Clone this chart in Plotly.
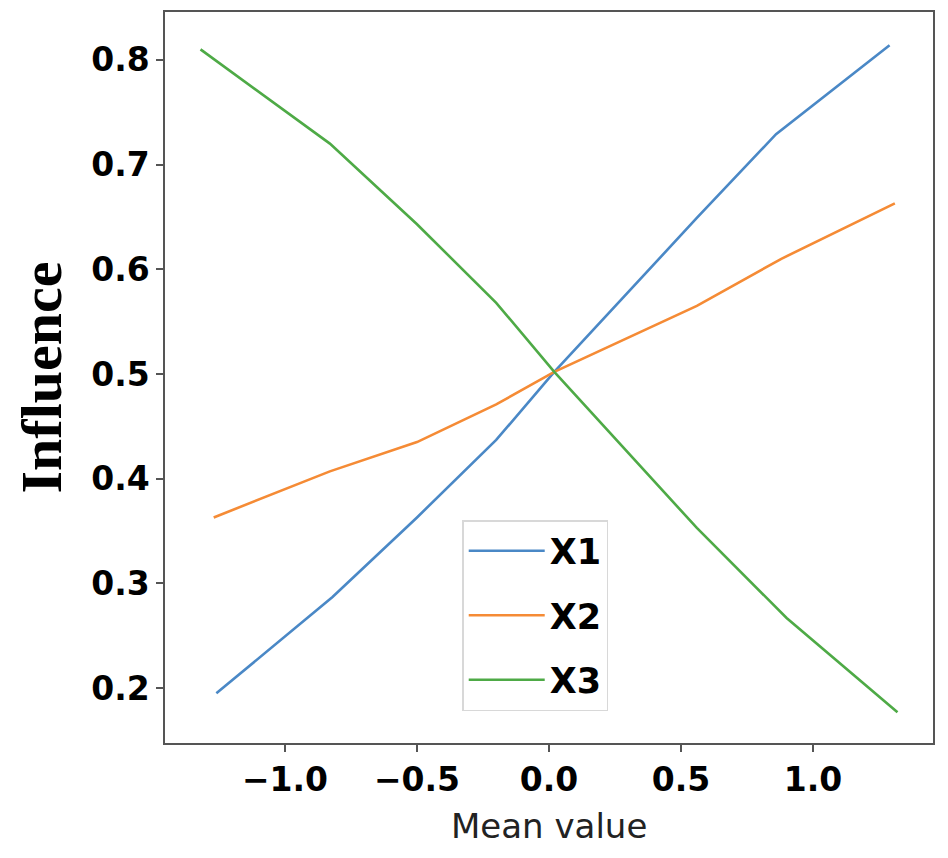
import plotly.graph_objects as go

# mean value (x) and influence (y) for each variable
x1_mean = [-1.26, -0.82, -0.50, -0.20, 0.02, 0.56, 0.86, 1.29]
x1_infl = [0.195, 0.287, 0.363, 0.437, 0.502, 0.649, 0.729, 0.814]

x2_mean = [-1.27, -0.83, -0.50, -0.20, 0.02, 0.56, 0.88, 1.31]
x2_infl = [0.363, 0.407, 0.435, 0.471, 0.502, 0.565, 0.610, 0.663]

x3_mean = [-1.32, -0.83, -0.50, -0.20, 0.02, 0.56, 0.90, 1.32]
x3_infl = [0.810, 0.720, 0.643, 0.568, 0.502, 0.353, 0.267, 0.177]

names = ["X1", "X2", "X3"]
colors = ["#4a88c6", "#f58b35", "#4eaa46"]

fig = go.Figure()

series = [(x1_mean, x1_infl), (x2_mean, x2_infl), (x3_mean, x3_infl)]
for (xs, ys), name, col in zip(series, names, colors):
    fig.add_trace(
        go.Scatter(
            x=xs,
            y=ys,
            mode="lines",
            name=name,
            legendgroup=name,
            line=dict(color=col, width=2.6),
        )
    )

axis_common = dict(
    showline=True,
    linecolor="#555555",
    linewidth=1.5,
    mirror=True,
    showgrid=False,
    zeroline=False,
    ticks="outside",
    ticklen=7,
    tickwidth=1.5,
    tickcolor="#555555",
    tickfont=dict(family="DejaVu Sans", size=33, color="black", weight="bold"),
    tickformat=".1f",
)

fig.update_xaxes(
    range=[-1.4545, 1.4545],
    tickvals=[-1.0, -0.5, 0.0, 0.5, 1.0],
    **axis_common
)
fig.update_yaxes(
    range=[0.1476, 0.8457],
    tickvals=[0.2, 0.3, 0.4, 0.5, 0.6, 0.7, 0.8],
    **axis_common
)

fig.update_layout(
    width=940,
    height=850,
    margin=dict(l=157, r=15, t=2, b=115),
    plot_bgcolor="white",
    paper_bgcolor="white",
    showlegend=True,
    legend=dict(
        x=0.387,
        y=0.305,
        xanchor="left",
        yanchor="top",
        bgcolor="white",
        bordercolor="#d8d8d8",
        borderwidth=1.5,
        font=dict(family="DejaVu Sans", size=35, color="black", weight="bold"),
        tracegroupgap=16,
        traceorder="grouped",
        itemwidth=76,
    ),
    annotations=[
        dict(
            text="Mean value",
            xref="paper", yref="paper",
            x=0.5, y=0,
            xanchor="center", yanchor="middle",
            yshift=-83,
            showarrow=False,
            font=dict(family="DejaVu Sans", size=34, color="#222222"),
        ),
        dict(
            text="<b>Influence</b>",
            xref="paper", yref="paper",
            x=0, y=0.5,
            xanchor="center", yanchor="middle",
            xshift=-124,
            textangle=-90,
            showarrow=False,
            font=dict(family="Liberation Serif", size=58, color="black"),
        ),
    ],
)

fig.write_html("out.html")
